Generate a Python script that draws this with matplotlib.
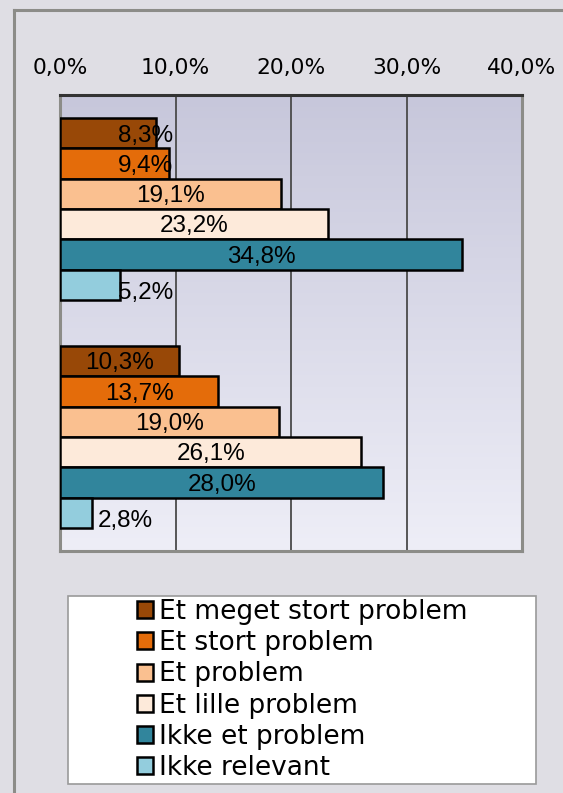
import matplotlib
matplotlib.use("Agg")
import matplotlib.pyplot as plt
import numpy as np
from matplotlib.patches import Rectangle, Patch
from matplotlib.colors import LinearSegmentedColormap

# data
groups = ["Gruppe 1", "Gruppe 2"]
series = ["Et meget stort problem", "Et stort problem", "Et problem",
          "Et lille problem", "Ikke et problem", "Ikke relevant"]
values = [
    [8.3, 9.4, 19.1, 23.2, 34.8, 5.2],
    [10.3, 13.7, 19.0, 26.1, 28.0, 2.8],
]
colors = ["#984807", "#e46c0a", "#fac090", "#fdeada", "#31859c", "#93cddd"]
xticks = [0, 10, 20, 30, 40]

W, H = 563, 793
fig = plt.figure(figsize=(W / 100, H / 100), dpi=100)
fig.patch.set_facecolor("#dfdee4")

# outer border (top + left visible)
fig.add_artist(plt.Line2D([14 / W, 14 / W], [0, 1 - 10 / H], transform=fig.transFigure,
                          color="#8c8c88", lw=2.2))
fig.add_artist(plt.Line2D([14 / W, 1], [1 - 10 / H, 1 - 10 / H], transform=fig.transFigure,
                          color="#8c8c88", lw=2.2))

x0, x1, y0, y1 = 60, 522, 95, 551
ax = fig.add_axes([x0 / W, 1 - y1 / H, (x1 - x0) / W, (y1 - y0) / H])
ax.set_xlim(0, 40)
ax.set_ylim(len(groups) - 0.5, -0.5)

# gradient background
grad = np.linspace(0, 1, 256).reshape(-1, 1)
cm = LinearSegmentedColormap.from_list("bg", ["#c7c7db", "#eeeef7"])
ax.imshow(grad, aspect="auto", cmap=cm, extent=[0, 40, len(groups) - 0.5, -0.5], zorder=0)

for xt in xticks[1:-1]:
    ax.axvline(xt, color="#4a4a4a", lw=1.3, zorder=1)

bar_h = 0.8 / len(series)
for gi, vals in enumerate(values):
    for si, v in enumerate(vals):
        yc = gi - 0.4 + bar_h * (si + 0.5)
        ax.barh(yc, v, height=bar_h, color=colors[si], edgecolor="black", lw=1.8, zorder=3)
        lab = f"{v:.1f}%".replace(".", ",")
        kw = dict(va="center", fontsize=17.5, family="Liberation Sans", zorder=4)
        if v < 4:
            ax.text(v + 0.5, yc + 0.035, lab, ha="left", **kw)
        elif v < 10:
            ax.text(5.0, yc + (0.035 if v < 6 else 0.012), lab, ha="left", **kw)
        else:
            ax.text(v / 2, yc + 0.01, lab, ha="center", **kw)

ax.xaxis.tick_top()
ax.set_xticks(xticks)
ax.set_xticklabels([f"{t:.1f}%".replace(".", ",") for t in xticks],
                   fontsize=15.7, family="DejaVu Sans")
ax.tick_params(axis="x", length=0, pad=12)
ax.set_yticks([])
for s in ["left", "bottom", "right"]:
    ax.spines[s].set_color("#8c8c88")
    ax.spines[s].set_linewidth(2.2)
ax.spines["top"].set_color("#333333")
ax.spines["top"].set_linewidth(2.2)

# legend box
lx0, lx1, ly0, ly1 = 68, 536, 596, 784
fig.add_artist(Rectangle((lx0 / W, 1 - ly1 / H), (lx1 - lx0) / W, (ly1 - ly0) / H,
                         transform=fig.transFigure, facecolor="white",
                         edgecolor="#9a9a9a", lw=1.2))
handles = [Patch(facecolor=c, edgecolor="black", lw=1.8) for c in colors]
leg = fig.legend(handles, series, loc="center", frameon=False,
                 bbox_to_anchor=((lx0 + lx1) / 2 / W, 1 - (ly0 + ly1) / 2 / H),
                 prop={"family": "DejaVu Sans", "size": 19},
                 handlelength=0.62, handleheight=0.62, handletextpad=0.2,
                 labelspacing=0.2, borderpad=0.2)

fig.savefig("out.png", dpi=100, facecolor=fig.get_facecolor())
